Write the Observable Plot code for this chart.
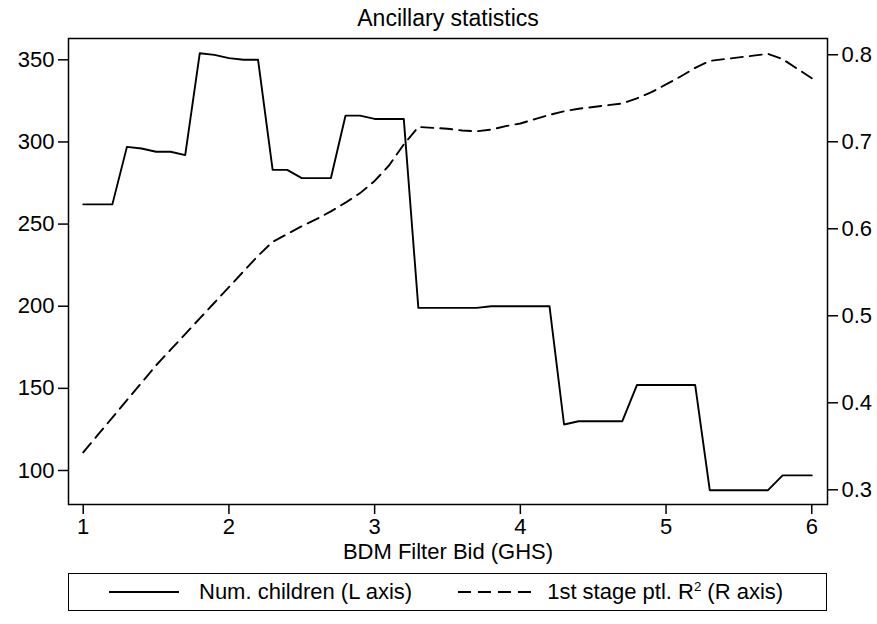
<!DOCTYPE html>
<html><head><meta charset="utf-8">
<script src="https://cdn.jsdelivr.net/npm/d3@7"></script>
<script src="https://cdn.jsdelivr.net/npm/@observablehq/plot@0.6"></script>
<style>
body{margin:0;background:#fff;font-family:"Liberation Sans",Arial,Helvetica,sans-serif;}
#wrap{position:relative;width:877px;height:624px;background:#fff;}
#chart{position:absolute;left:0;top:0;}
#legend{position:absolute;left:68px;top:573px;width:759px;height:38px;box-sizing:border-box;border:1.5px solid #000;display:flex;align-items:center;justify-content:flex-start;padding-left:40px;font-size:22px;color:#000;white-space:nowrap;}
#legend sup{font-size:60%;line-height:0;}
</style></head><body>
<div id="wrap"><div id="chart"></div><div id="legend"></div></div>
<script>
const bids = [1.0,1.1,1.2,1.3,1.4,1.5,1.6,1.7,1.8,1.9,2.0,2.1,2.2,2.3,2.4,2.5,2.6,2.7,2.8,2.9,3.0,3.1,3.2,3.3,3.4,3.5,3.6,3.7,3.8,3.9,4.0,4.1,4.2,4.3,4.4,4.5,4.6,4.7,4.8,4.9,5.0,5.1,5.2,5.3,5.4,5.5,5.6,5.7,5.8,5.9,6.0];
const children = [262,262,262,297,296,294,294,292,354,353,351,350,350,283,283,278,278,278,316,316,314,314,314,199,199,199,199,199,200,200,200,200,200,128,130,130,130,130,152,152,152,152,152,88,88,88,88,88,97,97,97];
const r2 = [0.343,0.363,0.383,0.403,0.423,0.443,0.461,0.479,0.497,0.515,0.533,0.551,0.569,0.585,0.594,0.603,0.611,0.620,0.630,0.641,0.655,0.673,0.697,0.717,0.716,0.715,0.713,0.712,0.714,0.718,0.721,0.726,0.731,0.735,0.738,0.740,0.742,0.744,0.750,0.757,0.766,0.775,0.785,0.793,0.795,0.797,0.799,0.801,0.795,0.784,0.773];
const leftTicks = [100,150,200,250,300,350];
const rightTicks = [0.3,0.4,0.5,0.6,0.7,0.8];
const xTicks = [1,2,3,4,5,6];
const titleText = "Ancillary statistics";
const xLabel = "BDM Filter Bid (GHS)";
const seriesNames = ["Num. children (L axis)", "1st stage ptl. R", " (R axis)"];

const leftDomain = [79.3, 362.97];
const rightDomain = [0.2831, 0.8187];
const toLeft = d3.scaleLinear().domain(rightDomain).range(leftDomain);

const data = bids.map((b, i) => ({bid: b, kids: children[i], r2: r2[i]}));
const font = '"Liberation Sans",Arial,Helvetica,sans-serif';

const plot = Plot.plot({
  width: 877, height: 566,
  marginLeft: 68, marginRight: 50, marginTop: 38, marginBottom: 62,
  x: {domain: [0.899, 6.108]},
  y: {domain: leftDomain},
  style: {fontFamily: font, fontSize: "22px", color: "#000", background: "#fff", overflow: "visible"},
  marks: [
    Plot.axisX({ticks: xTicks, tickSize: 10, tickPadding: 4, fontSize: 22, label: null, strokeWidth: 1.5, tickFormat: d => String(d)}),
    Plot.axisY({ticks: leftTicks, anchor: "left", tickSize: 10, tickPadding: 4, fontSize: 22, label: null, strokeWidth: 1.5, tickFormat: d => String(d)}),
    Plot.axisY({ticks: rightTicks.map(toLeft), anchor: "right", tickSize: 10, tickPadding: 4, fontSize: 22, label: null, strokeWidth: 1.5,
      tickFormat: d => toLeft.invert(d).toFixed(1)}),
    Plot.line(data, {x: "bid", y: "kids", stroke: "#000", strokeWidth: 1.9}),
    Plot.line(data, {x: "bid", y: d => toLeft(d.r2), stroke: "#000", strokeWidth: 1.9, strokeDasharray: "12,7"}),
    Plot.frame({stroke: "#000", strokeWidth: 1.5}),
    Plot.text([titleText], {frameAnchor: "top", lineAnchor: "middle", dy: -20, fontSize: 23, fill: "#000"}),
    Plot.text([xLabel], {frameAnchor: "bottom", lineAnchor: "middle", dy: 47, fontSize: 22, fill: "#000"})
  ]
});
document.getElementById("chart").appendChild(plot);

const lg = document.getElementById("legend");
lg.innerHTML =
  '<svg width="70" height="10" style="margin-right:20px"><line x1="0" x2="70" y1="5" y2="5" stroke="#000" stroke-width="1.9"/></svg>' +
  '<span>' + seriesNames[0] + '</span>' +
  '<svg width="73" height="10" style="margin-left:46px;margin-right:16px"><line x1="0" x2="73" y1="5" y2="5" stroke="#000" stroke-width="1.9" stroke-dasharray="13,7"/></svg>' +
  '<span>' + seriesNames[1] + '<sup>2</sup>' + seriesNames[2] + '</span>';
</script>
</body></html>
